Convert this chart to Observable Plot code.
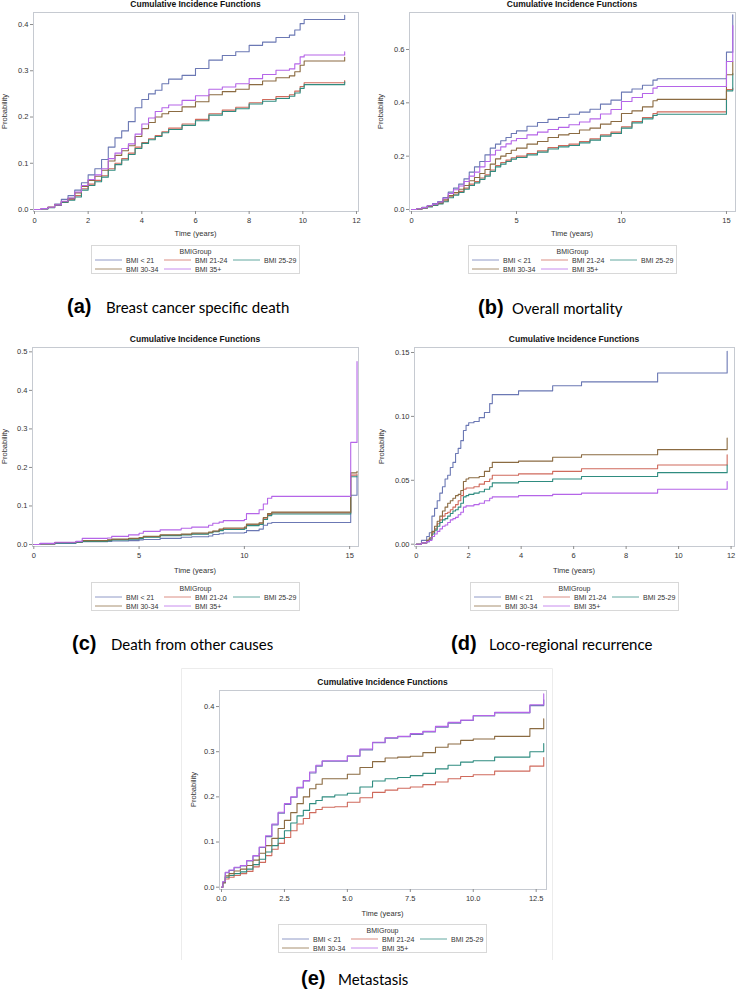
<!DOCTYPE html>
<html>
<head>
<meta charset="utf-8">
<script src="https://cdn.jsdelivr.net/npm/d3@7"></script>
<script src="https://cdn.jsdelivr.net/npm/@observablehq/plot@0.6"></script>
<style>
  body { margin: 0; background: #fff; }
  #fig { position: relative; width: 736px; height: 992px; overflow: hidden; background: #fff; }
  #fig svg { position: absolute; }
</style>
</head>
<body>
<div id="fig"></div>
<script>
// ---------- shared labels ----------
const groups = ["BMI < 21", "BMI 21-24", "BMI 25-29", "BMI 30-34", "BMI 35+"];
const colors = ["#6B78B4", "#CF6A5C", "#2F8C80", "#8B6B42", "#B565E8"];
const titleText = "Cumulative Incidence Functions";
const xLabel = "Time (years)";
const yLabel = "Probability";
const legendTitle = "BMIGroup";

// ---------- (a) Breast cancer specific death ----------
const timeA = [0,0.25,0.5,0.75,1,1.25,1.5,1.75,2,2.25,2.5,2.75,3,3.25,3.5,3.75,4,4.25,4.5,4.75,5,5.5,6,6.5,7,7.5,8,8.5,9,9.5,9.7,9.9,10.05,11.56];
const aLt21 = [0,0.002,0.005,0.012,0.022,0.03,0.042,0.058,0.075,0.088,0.108,0.135,0.155,0.17,0.19,0.22,0.238,0.25,0.258,0.272,0.282,0.29,0.305,0.323,0.333,0.341,0.355,0.362,0.372,0.377,0.388,0.402,0.411,0.42];
const a21_24 = [0,0.002,0.005,0.01,0.017,0.022,0.03,0.045,0.055,0.063,0.073,0.088,0.1,0.11,0.122,0.135,0.145,0.153,0.16,0.168,0.176,0.185,0.195,0.207,0.215,0.221,0.231,0.238,0.244,0.248,0.256,0.266,0.274,0.279];
const a25_29 = [0,0.001,0.004,0.009,0.015,0.02,0.027,0.042,0.052,0.06,0.07,0.085,0.097,0.107,0.119,0.132,0.143,0.151,0.158,0.166,0.173,0.182,0.192,0.204,0.212,0.218,0.228,0.234,0.24,0.245,0.252,0.262,0.27,0.276];
const a30_34 = [0,0.002,0.005,0.01,0.017,0.024,0.036,0.05,0.063,0.072,0.085,0.105,0.117,0.127,0.138,0.158,0.175,0.188,0.2,0.207,0.212,0.222,0.233,0.248,0.255,0.26,0.27,0.278,0.285,0.289,0.298,0.312,0.321,0.329];
const a35p = [0,0.002,0.005,0.01,0.018,0.025,0.038,0.052,0.065,0.075,0.088,0.11,0.122,0.132,0.142,0.163,0.185,0.198,0.212,0.22,0.226,0.236,0.246,0.26,0.265,0.272,0.283,0.292,0.301,0.304,0.315,0.33,0.334,0.341];
const xTicksA = [0,2,4,6,8,10,12];
const yTicksA = [0,0.1,0.2,0.3,0.4];

// ---------- (b) Overall mortality ----------
const timeB = [0,0.25,0.5,0.75,1,1.25,1.5,1.75,2,2.25,2.5,2.75,3,3.25,3.5,3.75,4,4.25,4.5,4.75,5,5.5,6,6.5,7,7.5,8,8.5,9,9.5,10,10.5,11,11.5,11.7,15.0,15.3];
const bLt21 = [0,0.003,0.008,0.015,0.022,0.03,0.045,0.065,0.08,0.095,0.115,0.14,0.16,0.18,0.205,0.23,0.245,0.258,0.27,0.285,0.295,0.312,0.326,0.338,0.345,0.357,0.365,0.376,0.395,0.41,0.44,0.452,0.466,0.485,0.49,0.59,0.73];
const b21_24 = [0,0.002,0.006,0.011,0.017,0.023,0.032,0.048,0.058,0.068,0.08,0.095,0.105,0.118,0.13,0.148,0.165,0.176,0.185,0.194,0.2,0.21,0.22,0.232,0.24,0.245,0.255,0.265,0.28,0.29,0.31,0.33,0.345,0.36,0.366,0.45,0.455];
const b25_29 = [0,0.002,0.005,0.01,0.015,0.021,0.029,0.044,0.054,0.064,0.076,0.09,0.1,0.113,0.125,0.143,0.16,0.17,0.18,0.189,0.195,0.205,0.215,0.227,0.235,0.24,0.25,0.26,0.275,0.285,0.305,0.325,0.34,0.353,0.357,0.445,0.51];
const b30_34 = [0,0.002,0.006,0.012,0.018,0.025,0.036,0.052,0.064,0.076,0.09,0.108,0.12,0.135,0.15,0.17,0.19,0.2,0.21,0.222,0.23,0.245,0.255,0.27,0.28,0.285,0.298,0.305,0.32,0.33,0.36,0.37,0.385,0.408,0.413,0.505,0.555];
const b35p = [0,0.003,0.007,0.014,0.02,0.028,0.042,0.06,0.074,0.088,0.105,0.125,0.14,0.16,0.18,0.205,0.222,0.235,0.246,0.258,0.266,0.28,0.29,0.3,0.308,0.318,0.328,0.34,0.358,0.375,0.405,0.42,0.435,0.455,0.461,0.555,0.69];
const xTicksB = [0,5,10,15];
const yTicksB = [0,0.2,0.4,0.6];

// ---------- (c) Death from other causes ----------
const timeC = [0,0.3,1,2,2.3,3.5,3.7,4.5,5,5.2,6,7,7.5,8.3,8.5,8.8,9,10,10.1,10.7,10.9,11.1,11.3,15.05,15.35];
const cLt21 = [0,0.001,0.003,0.005,0.007,0.008,0.009,0.01,0.012,0.013,0.016,0.019,0.02,0.022,0.026,0.028,0.03,0.031,0.036,0.04,0.05,0.055,0.057,0.128,0.175];
const c21_24 = [0,0.002,0.005,0.007,0.009,0.011,0.013,0.015,0.017,0.02,0.024,0.026,0.028,0.031,0.034,0.038,0.041,0.043,0.051,0.054,0.068,0.078,0.082,0.18,0.182];
const c25_29 = [0,0.002,0.004,0.006,0.008,0.01,0.012,0.014,0.016,0.019,0.023,0.025,0.027,0.03,0.033,0.036,0.039,0.041,0.049,0.052,0.065,0.075,0.079,0.176,0.178];
const c30_34 = [0,0.002,0.005,0.007,0.01,0.012,0.014,0.016,0.018,0.021,0.025,0.027,0.03,0.032,0.035,0.04,0.043,0.045,0.053,0.056,0.07,0.08,0.084,0.186,0.19];
const c35p = [0,0.003,0.006,0.008,0.016,0.017,0.021,0.025,0.029,0.034,0.038,0.042,0.045,0.05,0.055,0.058,0.062,0.065,0.08,0.09,0.105,0.12,0.125,0.265,0.475];
const xTicksC = [0,5,10,15];
const yTicksC = [0,0.1,0.2,0.3,0.4,0.5];

// ---------- (d) Loco-regional recurrence ----------
const timeD = [0,0.2,0.4,0.5,0.6,0.7,0.8,0.9,1.0,1.1,1.2,1.3,1.4,1.5,1.6,1.7,1.8,1.9,2.0,2.2,2.4,2.6,2.8,2.9,3.9,5.2,6.3,9.2,11.85];
const dLt21 = [0,0.003,0.006,0.009,0.022,0.028,0.034,0.04,0.045,0.051,0.054,0.06,0.064,0.071,0.075,0.081,0.089,0.093,0.095,0.096,0.099,0.103,0.11,0.117,0.12,0.124,0.127,0.134,0.151];
const d21_24 = [0,0.001,0.003,0.004,0.009,0.012,0.016,0.019,0.022,0.024,0.025,0.027,0.029,0.031,0.034,0.038,0.043,0.044,0.044,0.045,0.047,0.049,0.051,0.054,0.055,0.057,0.059,0.062,0.07];
const d25_29 = [0,0.001,0.002,0.004,0.008,0.011,0.014,0.017,0.019,0.02,0.022,0.024,0.026,0.027,0.029,0.032,0.037,0.038,0.039,0.04,0.041,0.043,0.045,0.048,0.049,0.051,0.053,0.056,0.062];
const d30_34 = [0,0.001,0.003,0.005,0.01,0.014,0.018,0.022,0.026,0.029,0.032,0.034,0.036,0.038,0.039,0.042,0.049,0.051,0.052,0.052,0.053,0.057,0.06,0.064,0.065,0.068,0.07,0.074,0.083];
const d35p = [0,0.001,0.002,0.003,0.006,0.008,0.01,0.012,0.014,0.015,0.017,0.019,0.02,0.021,0.023,0.025,0.029,0.03,0.03,0.031,0.032,0.034,0.036,0.037,0.038,0.039,0.04,0.043,0.049];
const xTicksD = [0,2,4,6,8,10,12];
const yTicksD = [0,0.05,0.10,0.15];

// ---------- (e) Metastasis ----------
const timeE = [0,0.05,0.15,0.3,0.5,0.75,1,1.25,1.5,1.75,2,2.25,2.5,2.75,3,3.25,3.5,3.75,4,4.5,5,5.5,6,6.5,7,7.5,8,8.5,9,9.5,10,10.85,12.25,12.8];
const eLt21 = [0,0.012,0.032,0.037,0.043,0.047,0.058,0.069,0.088,0.112,0.138,0.164,0.183,0.199,0.22,0.235,0.253,0.268,0.279,0.279,0.29,0.304,0.32,0.33,0.333,0.338,0.344,0.354,0.363,0.369,0.379,0.386,0.402,0.415];
const e21_24 = [0,0.01,0.018,0.022,0.026,0.03,0.035,0.045,0.055,0.07,0.084,0.097,0.11,0.125,0.14,0.152,0.165,0.172,0.177,0.178,0.188,0.198,0.21,0.215,0.219,0.222,0.227,0.233,0.24,0.245,0.249,0.257,0.268,0.287];
const e25_29 = [0,0.01,0.022,0.026,0.03,0.034,0.04,0.05,0.062,0.078,0.092,0.108,0.125,0.142,0.158,0.17,0.185,0.192,0.2,0.204,0.208,0.222,0.235,0.24,0.243,0.247,0.252,0.262,0.27,0.277,0.28,0.288,0.3,0.318];
const e30_34 = [0,0.01,0.025,0.03,0.036,0.04,0.048,0.06,0.075,0.092,0.108,0.13,0.148,0.165,0.185,0.2,0.218,0.228,0.24,0.24,0.25,0.265,0.278,0.286,0.288,0.29,0.298,0.31,0.317,0.325,0.328,0.334,0.351,0.373];
const e35p = [0,0.012,0.033,0.038,0.044,0.048,0.059,0.07,0.089,0.114,0.14,0.166,0.185,0.2,0.221,0.236,0.255,0.27,0.28,0.28,0.291,0.306,0.321,0.331,0.334,0.34,0.345,0.356,0.365,0.37,0.38,0.387,0.404,0.428];
const xTicksE = [0,2.5,5,7.5,10,12.5];
const yTicksE = [0,0.1,0.2,0.3,0.4];

// ---------- captions ----------
const capKeys = ["(a)", "(b)", "(c)", "(d)", "(e)"];
const capTexts = ["Breast cancer specific death", "Overall mortality", "Death from other causes", "Loco-regional recurrence", "Metastasis"];

// ---------- layout (positions only) ----------
const layout = [
  {times: timeA, series: [aLt21, a21_24, a25_29, a30_34, a35p], xTicks: xTicksA, xFmt: "d", yTicks: yTicksA, yFmt: ".1f",
   left: 0, top: 11, width: 360, ml: 33, mr: 2, xDomain: [-0.037, 12.075], yDomain: [-0.0043, 0.426],
   titleY: 4, xLabY: 233.5, yLabX: 4.5, legY: 245, capY: 313, capKX: 67, capTX: 106},
  {times: timeB, series: [bLt21, b21_24, b25_29, b30_34, b35p], xTicks: xTicksB, xFmt: "d", yTicks: yTicksB, yFmt: ".1f",
   left: 368, top: 11, width: 368, ml: 41, mr: 1, xDomain: [-0.095, 15.43], yDomain: [-0.0075, 0.7387],
   titleY: 4, xLabY: 233.5, yLabX: 380, legY: 245, capY: 314, capKX: 478, capTX: 512},
  {times: timeC, series: [cLt21, c21_24, c25_29, c30_34, c35p], xTicks: xTicksC, xFmt: "d", yTicks: yTicksC, yFmt: ".1f",
   left: 0, top: 346, width: 360, ml: 32, mr: 2, xDomain: [-0.062, 15.42], yDomain: [-0.0052, 0.5113],
   titleY: 339, xLabY: 570, yLabX: 4.5, legY: 582, capY: 650, capKX: 72, capTX: 111},
  {times: timeD, series: [dLt21, d21_24, d25_29, d30_34, d35p], xTicks: xTicksD, xFmt: "d", yTicks: yTicksD, yFmt: ".2f",
   left: 368, top: 346, width: 368, ml: 46, mr: 2, xDomain: [-0.065, 12.13], yDomain: [-0.0018, 0.1539],
   titleY: 339, xLabY: 570, yLabX: 381, legY: 582, capY: 650, capKX: 451, capTX: 489},
  {times: timeE, series: [eLt21, e21_24, e25_29, e30_34, e35p], xTicks: xTicksE, xFmt: ".1f", yTicks: yTicksE, yFmt: ".1f",
   left: 180, top: 689, width: 370, ml: 39, mr: 4, xDomain: [-0.079, 12.91], yDomain: [-0.0051, 0.4355],
   titleY: 682, xLabY: 913, yLabX: 193, legY: 924, capY: 985, capKX: 301, capTX: 338}
];

const fig = document.getElementById("fig");
const FONT = "'Liberation Sans', Arial, sans-serif";
const PLOT_H = 220, MT = 1, MB = 20;

// faint outline of the bottom panel image
const outline = d3.create("svg").attr("width", 736).attr("height", 992).style("left", "0px").style("top", "0px");
outline.append("path").attr("d", "M181.5,960V668.5H552.5V960").attr("fill", "none").attr("stroke", "#ececec");
fig.appendChild(outline.node());

layout.forEach((p) => {
  const data = groups.flatMap((g, i) => p.times.map((t, j) => ({t, v: p.series[i][j], g})));
  const chart = Plot.plot({
    width: p.width, height: PLOT_H,
    marginLeft: p.ml, marginRight: p.mr, marginTop: MT, marginBottom: MB,
    style: {fontFamily: FONT, fontSize: "7.5px", background: "transparent", overflow: "visible", color: "#333"},
    x: {domain: p.xDomain},
    y: {domain: p.yDomain},
    color: {domain: groups, range: colors},
    marks: [
      Plot.frame({stroke: "#c6cad1"}),
      Plot.axisX({ticks: p.xTicks, tickFormat: p.xFmt, tickSize: 3, tickPadding: 3, label: null, stroke: "#8d8d8d", fill: "#333"}),
      Plot.axisY({ticks: p.yTicks, tickFormat: p.yFmt, tickSize: 3, tickPadding: 2, label: null, stroke: "#8d8d8d", fill: "#333"}),
      Plot.line(data, {x: "t", y: "v", z: "g", stroke: "g", curve: "step-after", strokeWidth: 1.1})
    ]
  });
  chart.style.left = p.left + "px";
  chart.style.top = p.top + "px";
  fig.appendChild(chart);
});

// annotations: titles, axis labels, legends, captions
const ann = d3.create("svg").attr("width", 736).attr("height", 992).style("left", "0px").style("top", "0px")
  .style("font-family", FONT);

layout.forEach((p, k) => {
  const fx0 = p.left + p.ml, fx1 = p.left + p.width - p.mr;
  const cx = (fx0 + fx1) / 2;
  const cy = p.top + MT + (PLOT_H - MT - MB) / 2;

  ann.append("text").attr("x", cx).attr("y", p.titleY).attr("text-anchor", "middle").attr("dominant-baseline", "central")
    .attr("font-size", 8.5).attr("font-weight", "bold").attr("fill", "#111").text(titleText);

  ann.append("text").attr("x", cx).attr("y", p.xLabY).attr("text-anchor", "middle").attr("dominant-baseline", "central")
    .attr("font-size", 7.5).attr("fill", "#333").text(xLabel);

  ann.append("text").attr("transform", `translate(${p.yLabX},${cy}) rotate(-90)`).attr("text-anchor", "middle")
    .attr("dominant-baseline", "central").attr("font-size", 7.5).attr("fill", "#333").text(yLabel);

  const lx = Math.round(cx - 104.5);
  const lg = ann.append("g").attr("transform", `translate(${lx},${p.legY})`);
  lg.append("rect").attr("x", 0.5).attr("y", 0.5).attr("width", 208).attr("height", 28).attr("fill", "#fff").attr("stroke", "#d8d8d8");
  lg.append("text").attr("x", 104.5).attr("y", 6).attr("text-anchor", "middle").attr("dominant-baseline", "central")
    .attr("font-size", 7).attr("fill", "#333").text(legendTitle);
  groups.forEach((name, i) => {
    const col = i % 3, row = Math.floor(i / 3);
    const x0 = 4 + col * 69, yy = 15 + row * 9;
    lg.append("line").attr("x1", x0).attr("x2", x0 + 27).attr("y1", yy).attr("y2", yy)
      .attr("stroke", colors[i]).attr("stroke-width", 1).attr("stroke-opacity", 0.75);
    lg.append("text").attr("x", x0 + 31).attr("y", yy).attr("dominant-baseline", "central")
      .attr("font-size", 7).attr("fill", "#333").text(name);
  });

  ann.append("text").attr("x", p.capKX).attr("y", p.capY).attr("font-size", 20).attr("font-weight", "bold")
    .attr("fill", "#000").text(capKeys[k]);
  ann.append("text").attr("x", p.capTX).attr("y", p.capY).attr("font-size", 15).attr("font-family", "Lato, 'Open Sans', sans-serif")
    .attr("fill", "#000").text(capTexts[k]);
});
fig.appendChild(ann.node());
</script>
</body>
</html>
